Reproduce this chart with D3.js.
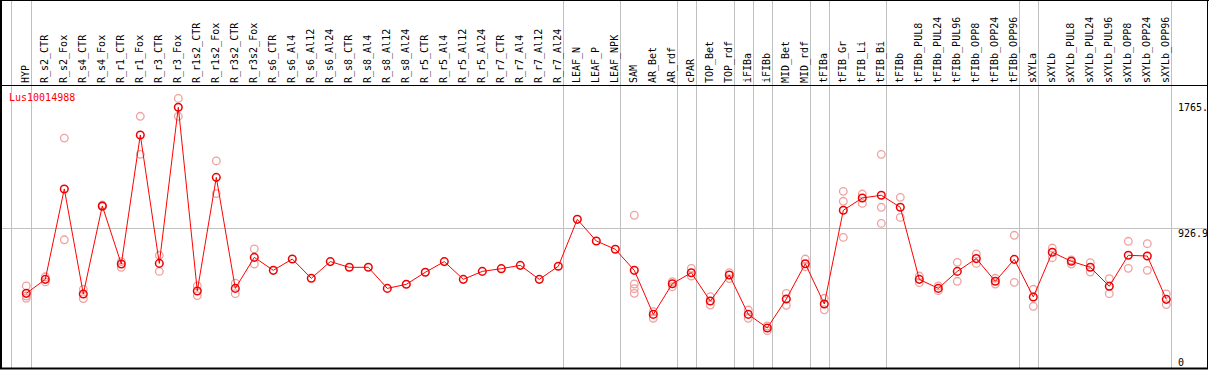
<!DOCTYPE html>
<html>
<head>
<meta charset="UTF-8">
<title>Lus10014988</title>
<script src="https://d3js.org/d3.v7.min.js"></script>
<style>
  body { margin: 0; background: #fff; }
  svg { display: block; }
  text { font-family: "DejaVu Sans Mono", monospace; font-size: 10px; }
</style>
</head>
<body>
<div id="chart"></div>
<script>
// categories (sample names)
const categories = ["HYP", "R_s2_CTR", "R_s2_Fox", "R_s4_CTR", "R_s4_Fox", "R_r1_CTR", "R_r1_Fox",
  "R_r3_CTR", "R_r3_Fox", "R_r1s2_CTR", "R_r1s2_Fox", "R_r3s2_CTR", "R_r3s2_Fox",
  "R_s6_CTR", "R_s6_Al4", "R_s6_Al12", "R_s6_Al24", "R_s8_CTR", "R_s8_Al4", "R_s8_Al12", "R_s8_Al24",
  "R_r5_CTR", "R_r5_Al4", "R_r5_Al12", "R_r5_Al24", "R_r7_CTR", "R_r7_Al4", "R_r7_Al12", "R_r7_Al24",
  "LEAF_N", "LEAF_P", "LEAF_NPK", "SAM", "AR_Bet", "AR_rdf", "cPAR", "TOP_Bet", "TOP_rdf",
  "iFIBa", "iFIBb", "MID_Bet", "MID_rdf", "tFIBa", "tFIB_Gr", "tFIB_Li", "tFIB_Bi", "tFIBb",
  "tFIBb_PUL8", "tFIBb_PUL24", "tFIBb_PUL96", "tFIBb_OPP8", "tFIBb_OPP24", "tFIBb_OPP96",
  "sXYLa", "sXYLb", "sXYLb_PUL8", "sXYLb_PUL24", "sXYLb_PUL96", "sXYLb_OPP8", "sXYLb_OPP24", "sXYLb_OPP96"];

// mean expression per sample
const means = [493, 586, 1187, 489, 1074, 688, 1546, 692, 1730, 509, 1264, 526, 732,
  646, 721, 593, 704, 666, 666, 526, 553, 633, 704, 586, 639, 657, 679, 586, 673,
  985, 841, 786, 646, 353, 557, 630, 442, 615, 353, 263, 455, 690, 422, 1045, 1127, 1145, 1065,
  586, 526, 639, 724, 573, 719, 469, 766, 706, 666, 540, 746, 741, 453];

// replicate values per sample
const replicates = [[542, 475, 460], [603, 569], [1525, 849], [520, 458], [1080, 1069], [704, 666],
  [1670, 1417], [746, 639], [1789, 1670], [542, 478], [1373, 1156], [560, 491], [788, 688],
  [], [], [], [], [], [], [], [], [], [], [], [], [], [], [], [], [], [], [],
  [1012, 555, 524, 493], [371, 327], [571, 537], [659, 608], [471, 415], [630, 591],
  [382, 327], [276, 245], [493, 413], [721, 670], [460, 384], [1171, 1105, 865], [1153, 1091],
  [1417, 1065, 958], [1131, 998], [608, 564], [542, 511], [699, 573], [755, 692], [593, 555],
  [879, 566], [520, 407], [794, 730], [715, 688], [697, 635], [591, 491], [839, 659], [823, 646], [489, 418]];

// samples followed by a group separator
const groupEnds = ["HYP", "R_r7_Al24", "LEAF_NPK", "AR_rdf", "cPAR", "TOP_rdf", "iFIBa", "iFIBb",
  "MID_rdf", "tFIBa", "tFIB_Bi", "tFIBb_OPP96", "sXYLa", "sXYLb_OPP96"];

const tickValues = [0, 926.9, 1765];
const tickLabels = ["0", "926.9", "1765."];
const title = "Lus10014988";

const width = 1209, height = 370;
const headerBottom = 85, plotBottom = 368;

const svg = d3.select("#chart").append("svg")
  .attr("width", width)
  .attr("height", height);

const x = d3.scalePoint().domain(categories).range([26.3, 1166.3]);
const y = d3.scaleLinear().domain([0, 1765]).range([367.5, 102]);

// vertical group separators (full height)
const sepX = [x(categories[0]) - 15.5].concat(groupEnds.map(c => x(c) + 4.4));
svg.append("g").selectAll("line")
  .data(sepX)
  .enter().append("line")
  .attr("x1", d => Math.round(d) + 0.5)
  .attr("x2", d => Math.round(d) + 0.5)
  .attr("y1", 0)
  .attr("y2", plotBottom)
  .attr("stroke", "#c0c0c0")
  .attr("stroke-width", 1);

// horizontal middle grid line
svg.append("line")
  .attr("x1", 1).attr("x2", 1207)
  .attr("y1", Math.round(y(926.9)) + 0.5)
  .attr("y2", Math.round(y(926.9)) + 0.5)
  .attr("stroke", "#c0c0c0");

// rotated sample names in header
svg.append("g").selectAll("text")
  .data(categories)
  .enter().append("text")
  .attr("transform", d => `translate(${x(d) + 3},83) rotate(-90)`)
  .attr("fill", "#000")
  .text(d => d);

// right-hand value labels
const yAxis = svg.append("g")
  .attr("transform", "translate(1178,0)")
  .call(d3.axisRight(y).tickValues(tickValues).tickSize(0).tickPadding(0)
    .tickFormat((d, i) => tickLabels[i]));
yAxis.select(".domain").remove();
yAxis.selectAll("text")
  .attr("font-family", "DejaVu Sans Mono, monospace")
  .attr("font-size", 10)
  .attr("fill", "#000")
  .attr("text-anchor", "start")
  .attr("dy", (d, i) => i === 0 ? "-0.2em" : "0.85em");

// replicate points
const repPoints = [];
replicates.forEach((r, i) => r.forEach(v => repPoints.push({c: categories[i], v: v})));
svg.append("g").selectAll("circle")
  .data(repPoints)
  .enter().append("circle")
  .attr("cx", d => x(d.c))
  .attr("cy", d => y(d.v))
  .attr("r", 3.8)
  .attr("fill", "none")
  .attr("stroke", "#f0a0a0")
  .attr("stroke-width", 1.3);

// mean line
const line = d3.line().x((d, i) => x(categories[i])).y(d => y(d));
svg.append("path")
  .datum(means)
  .attr("d", line)
  .attr("fill", "none")
  .attr("stroke", "#ff0000")
  .attr("stroke-width", 1);

// mean points
svg.append("g").selectAll("circle")
  .data(means)
  .enter().append("circle")
  .attr("cx", (d, i) => x(categories[i]))
  .attr("cy", d => y(d))
  .attr("r", 3.8)
  .attr("fill", "none")
  .attr("stroke", "#ee0000")
  .attr("stroke-width", 1.5);

// title
svg.append("text")
  .attr("x", 9)
  .attr("y", 101)
  .attr("fill", "#ff0000")
  .attr("font-size", 11)
  .text(title);

// frame
svg.append("line").attr("x1", 0).attr("x2", width).attr("y1", 0.5).attr("y2", 0.5).attr("stroke", "#000");
svg.append("line").attr("x1", 0).attr("x2", 1207).attr("y1", headerBottom + 0.5).attr("y2", headerBottom + 0.5).attr("stroke", "#000");
svg.append("line").attr("x1", 0).attr("x2", 1208).attr("y1", plotBottom + 0.5).attr("y2", plotBottom + 0.5).attr("stroke", "#000").attr("stroke-width", 2);
svg.append("line").attr("x1", 1).attr("x2", 1).attr("y1", 0).attr("y2", 369).attr("stroke", "#000").attr("stroke-width", 2);
svg.append("line").attr("x1", 1207.5).attr("x2", 1207.5).attr("y1", 0).attr("y2", 369).attr("stroke", "#000");
</script>
</body>
</html>
